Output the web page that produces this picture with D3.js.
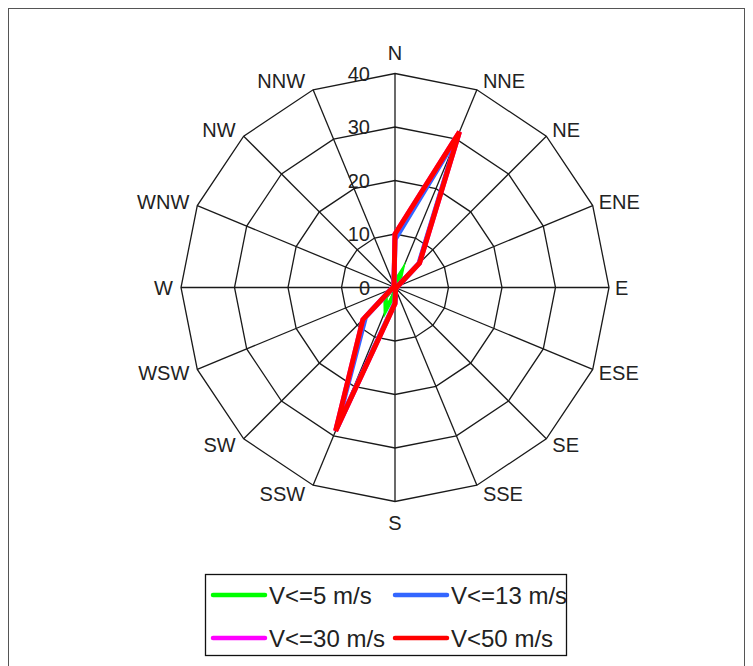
<!DOCTYPE html>
<html>
<head>
<meta charset="utf-8">
<script src="https://cdn.jsdelivr.net/npm/d3@7/dist/d3.min.js"></script>
<style>
  html, body { margin: 0; padding: 0; background: #fff; }
  svg { display: block; }
  text { font-family: "Liberation Sans", Arial, sans-serif; fill: #222; }
</style>
</head>
<body>
<svg id="chart" width="753" height="666"></svg>
<script>
// ---- data ----
const directions = ["N","NNE","NE","ENE","E","ESE","SE","SSE","S","SSW","SW","WSW","W","WNW","NW","NNW"];
const tickValues = [0, 10, 20, 30, 40];
const seriesNames = ["V<=5 m/s", "V<=13 m/s", "V<=30 m/s", "V<50 m/s"];
const seriesColors = ["#00ff00", "#3366ff", "#ff00ff", "#ff0000"];
const v5  = [1.0, 3.0, 1.0, 0.3, 0.2, 0.1, 0.1, 0.2, 1.0, 4.5, 2.5, 0.5, 0.2, 0.1, 0.1, 0.3];
const v13 = [9.0, 30.8, 6.3, 0.5, 0.3, 0.2, 0.2, 0.3, 2.8, 28.8, 7.8, 0.7, 0.3, 0.2, 0.2, 0.5];
const v30 = [10.0, 31.5, 6.5, 0.5, 0.3, 0.2, 0.2, 0.3, 3.0, 29.0, 8.5, 0.7, 0.3, 0.2, 0.2, 0.5];
const v50 = [10.0, 31.5, 6.5, 0.5, 0.3, 0.2, 0.2, 0.3, 3.0, 29.0, 8.5, 0.7, 0.3, 0.2, 0.2, 0.5];
const seriesValues = [v5, v13, v30, v50];

// ---- layout ----
const svg = d3.select("#chart");
const cx = 395, cy = 287.5, R = 214;

svg.append("rect")
  .attr("x", 8.5).attr("y", 8.5).attr("width", 736).attr("height", 680)
  .attr("fill", "none").attr("stroke", "#555").attr("stroke-width", 1);

const r = d3.scaleLinear().domain([0, 40]).range([0, R]);
const angle = d3.scaleLinear().domain([0, directions.length]).range([0, 2 * Math.PI]);

const g = svg.append("g").attr("transform", `translate(${cx},${cy})`);

// rings
const ringLine = d3.lineRadial().angle((d, i) => angle(i)).radius(d => r(d)).curve(d3.curveLinearClosed);
tickValues.filter(t => t > 0).forEach(t => {
  g.append("path")
    .attr("d", ringLine(directions.map(() => t)))
    .attr("fill", "none").attr("stroke", "#1a1a1a").attr("stroke-width", 1.3);
});

// spokes
directions.forEach((d, i) => {
  const a = angle(i);
  g.append("line")
    .attr("x1", 0).attr("y1", 0)
    .attr("x2", r(40) * Math.sin(a)).attr("y2", -r(40) * Math.cos(a))
    .attr("stroke", "#1a1a1a").attr("stroke-width", 1.3);
});

// tick labels
tickValues.forEach(t => {
  g.append("text")
    .attr("x", -25).attr("y", -r(t))
    .attr("dy", "0.35em")
    .attr("text-anchor", "end")
    .attr("font-size", 20)
    .text(t);
});

// direction labels
directions.forEach((d, i) => {
  const a = angle(i);
  const s = Math.sin(a), c = Math.cos(a);
  const vx = r(40) * s, vy = -r(40) * c;
  let x = vx, y = vy, anchor = "middle";
  if (Math.abs(s) < 1e-6) {
    y = vy - 21 * c;
  } else {
    anchor = s > 0 ? "start" : "end";
    x = vx + (s > 0 ? 6 : -8);
    y = vy - 9 * c;
  }
  g.append("text")
    .attr("x", x).attr("y", y)
    .attr("dy", "0.35em")
    .attr("text-anchor", anchor)
    .attr("font-size", 20)
    .text(d);
});

// series
const seriesLine = d3.lineRadial().angle((d, i) => angle(i)).radius(d => r(d)).curve(d3.curveLinearClosed);
seriesValues.forEach((vals, k) => {
  g.append("path")
    .attr("d", seriesLine(vals))
    .attr("fill", "none")
    .attr("stroke", seriesColors[k])
    .attr("stroke-width", k === 0 ? 4.5 : 5)
    .attr("stroke-linejoin", "miter")
    .attr("stroke-miterlimit", 6);
});

// legend
const leg = svg.append("g");
leg.append("rect")
  .attr("x", 205.5).attr("y", 574.5).attr("width", 361).attr("height", 81)
  .attr("fill", "#fff").attr("stroke", "#111").attr("stroke-width", 1.3);
const legPos = [[213, 595], [395, 595], [213, 638], [395, 638]];
seriesNames.forEach((name, k) => {
  const [lx, ly] = legPos[k];
  leg.append("line")
    .attr("x1", lx).attr("x2", lx + 52).attr("y1", ly).attr("y2", ly)
    .attr("stroke", seriesColors[k]).attr("stroke-width", 4.5).attr("stroke-linecap", "round");
  leg.append("text")
    .attr("x", lx + 56).attr("y", ly).attr("dy", "0.36em")
    .attr("font-size", 24)
    .text(name);
});
</script>
</body>
</html>
